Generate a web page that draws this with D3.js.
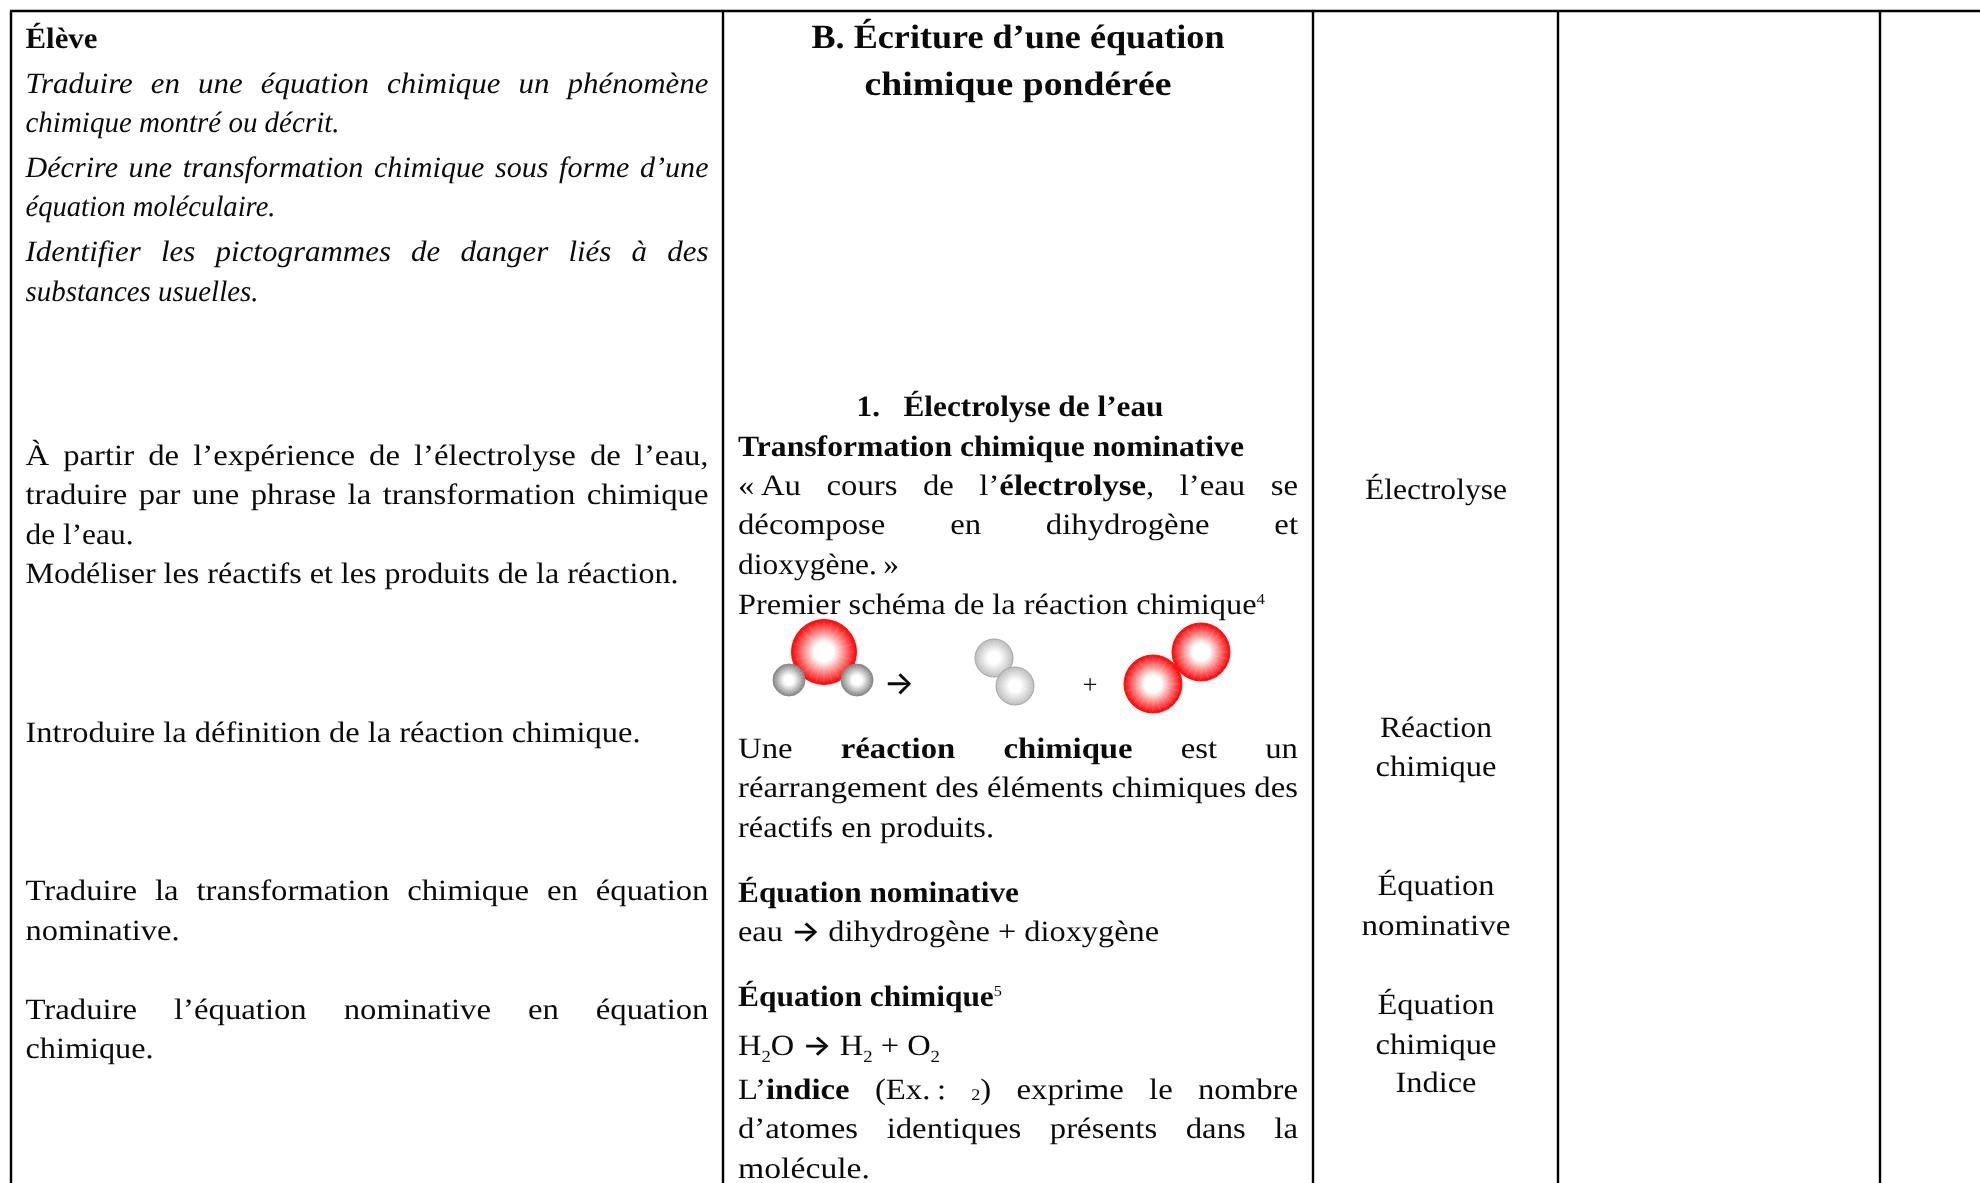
<!DOCTYPE html>
<html lang="fr">

<head>
    <meta charset="UTF-8">
    <title>Écriture d'une équation chimique pondérée</title>
    <script src="https://cdn.jsdelivr.net/npm/d3@7"></script>
</head>
<style>
    * {
        margin: 0;
        padding: 0;
    }

    body {
        background: #fff;
    }

    text {
        font-family: "Liberation Serif", serif;
        fill: #0a0a0a;
        text-rendering: geometricPrecision;
    }

    g.bloc {
        filter: blur(0.35px);
    }
</style>

<body>
    <svg></svg>
</body>

</html>

<script>
    // texte : *gras*, _indice_, ^exposant^, ~petit~ ; largeur 0 = ligne justifiee
    const eleveHead = ['*Élève*']
    const eleveHeadY = [48]
    const eleveHeadW = [72]

    const competences = [
        'Traduire en une équation chimique un phénomène',
        'chimique montré ou décrit.',
        'Décrire une transformation chimique sous forme d’une',
        'équation moléculaire.',
        'Identifier les pictogrammes de danger liés à des',
        'substances usuelles.'
    ]
    const competencesY = [93, 132, 177, 216, 261, 301]
    const competencesW = [0, 314, 0, 250, 0, 233]

    const leftLines = [
        'À partir de l’expérience de l’électrolyse de l’eau,',
        'traduire par une phrase la transformation chimique',
        'de l’eau.',
        'Modéliser les réactifs et les produits de la réaction.',
        'Introduire la définition de la réaction chimique.',
        'Traduire la transformation chimique en équation',
        'nominative.',
        'Traduire l’équation nominative en équation',
        'chimique.'
    ]
    const leftY = [465, 504, 544, 583, 742, 900, 940, 1019, 1058]
    const leftW = [0, 0, 108, 653, 615, 0, 154, 0, 128]

    const titleLines = ['*B. Écriture d’une équation*', '*chimique pondérée*']
    const titleY = [48, 95]
    const titleW = [413, 307]

    const headingLines = ['*1.\u00a0\u00a0\u00a0Électrolyse de l’eau*']
    const headingY = [416]
    const headingW = [307]

    const middleLines = [
        '*Transformation chimique nominative*',
        '«\u2009Au cours de l’*électrolyse*, l’eau se',
        'décompose en dihydrogène et',
        'dioxygène.\u2009»',
        'Premier schéma de la réaction chimique^4^',
        'Une *réaction chimique* est un',
        'réarrangement des éléments chimiques des',
        'réactifs en produits.',
        '*Équation nominative*',
        'eau → dihydrogène + dioxygène',
        '*Équation chimique*^5^',
        'H_2_O → H_2_ + O_2_',
        'L’*indice* (Ex.\u2009: ~2~) exprime le nombre',
        'd’atomes identiques présents dans la',
        'molécule.'
    ]
    const middleY = [456, 495, 534, 574, 614, 758, 797, 837, 902, 941, 1006, 1055, 1099, 1138, 1178]
    const middleW = [506, 0, 0, 161, 527, 0, 560, 256, 281, 421, 264, 202, 0, 0, 132]

    const termLines = ['Électrolyse', 'Réaction', 'chimique', 'Équation', 'nominative', 'Équation', 'chimique', 'Indice']
    const termY = [499, 737, 776, 895, 935, 1014, 1054, 1092]
    const termW = [142, 112, 121, 117, 149, 117, 121, 81]

    // bords du tableau
    const columnEdges = [11, 723, 1313, 1558, 1880]
    const tableTop = 11

    // schema : molecules
    const atomKinds = ['oxygene', 'eauH', 'eauH', 'hydrogene', 'hydrogene', 'oxygene2', 'oxygene2']
    const atomX = [824, 789, 857, 994, 1015, 1201, 1153]
    const atomY = [652, 680, 680, 658, 686, 652, 684]
    const schemaSigns = ['→', '+']
    const schemaSignX = [899, 1090]
    const schemaSignY = [694, 693]

    const kinds = ['oxygene', 'oxygene2', 'eauH', 'hydrogene']
    const radius = d3.scaleOrdinal().domain(kinds).range([32.5, 29, 16, 19])
    const edgeColor = d3.scaleOrdinal().domain(kinds).range(['#ff0000', '#ff0000', '#808080', '#bcbcbc'])
    const rimColor = d3.scaleOrdinal().domain(kinds).range(['#ff1010', '#ff1010', '#8a8a8a', '#a4a4a4'])

    const svg = d3.select('svg').attr('width', 1980).attr('height', 1183).style('display', 'block')

    // degrades
    const defs = svg.append('defs')
    const grads = defs.selectAll('radialGradient').data(kinds).join('radialGradient').attr('id', d => 'g-' + d)
    grads.append('stop').attr('offset', '0%').attr('stop-color', '#ffffff')
    grads.append('stop').attr('offset', '30%').attr('stop-color', '#ffffff')
    grads.append('stop').attr('offset', '100%').attr('stop-color', d => edgeColor(d))

    // lignes du tableau
    svg.selectAll('line.col').data(columnEdges).join('line')
        .attr('class', 'col')
        .attr('x1', d => d).attr('x2', d => d)
        .attr('y1', tableTop).attr('y2', 1183)
        .attr('stroke', '#000').attr('stroke-width', 2.4)

    svg.append('line')
        .attr('x1', columnEdges[0] - 1).attr('x2', 1980)
        .attr('y1', tableTop).attr('y2', tableTop)
        .attr('stroke', '#000').attr('stroke-width', 2.4)

    // decoupe une ligne en morceaux
    function parseRuns(str) {
        return str.split(/(\*[^*]+\*|_[^_]+_|\^[^^]+\^|~[^~]+~|→)/).filter(s => s !== '').map(s => {
            if (s[0] === '*' && s.length > 1) return { t: s.slice(1, -1), kind: 'bold' }
            if (s[0] === '_' && s.length > 1) return { t: s.slice(1, -1), kind: 'sub' }
            if (s[0] === '^' && s.length > 1) return { t: s.slice(1, -1), kind: 'sup' }
            if (s[0] === '~' && s.length > 1) return { t: s.slice(1, -1), kind: 'small' }
            if (s === '→') return { t: s, kind: 'arrow' }
            return { t: s, kind: 'normal' }
        })
    }

    function drawBlock(lines, ys, widths, opt) {
        const o = Object.assign({ size: 29.5, italic: false, x: 0, fullWidth: 0, center: false, stretch: 1.11 }, opt)
        const g = svg.append('g').attr('class', 'bloc')

        g.selectAll('text').data(lines).join('text')
            .attr('font-size', o.size)
            .attr('font-style', o.italic ? 'italic' : 'normal')
            .attr('text-anchor', o.center ? 'middle' : 'start')
            .attr('xml:space', 'preserve')
            .each(function (d, i) {
                const el = d3.select(this)
                let offset = 0
                parseRuns(d).forEach(r => {
                    const ts = el.append('tspan').text(r.t)
                    let target = 0
                    if (r.kind === 'bold') ts.attr('font-weight', 'bold')
                    if (r.kind === 'arrow') ts.style('font-family', 'Inter').attr('font-weight', 600).attr('font-size', o.size * 0.95)
                    if (r.kind === 'sub') { ts.attr('font-size', o.size * 0.58); target = 7 }
                    if (r.kind === 'sup') { ts.attr('font-size', o.size * 0.52); target = -10 }
                    if (r.kind === 'small') { ts.attr('font-size', o.size * 0.55); target = 1 }
                    if (target !== offset) ts.attr('dy', target - offset)
                    offset = target
                })

                // largeur mesuree puis ajustee
                const natural = this.getComputedTextLength()
                let sx = o.stretch
                if (widths[i] > 0) {
                    sx = widths[i] / natural
                } else {
                    const spaces = (d.match(/ /g) || []).length
                    // on garde au moins un blanc lisible entre les mots
                    sx = Math.min(sx, o.fullWidth / (natural + spaces * 3))
                    el.attr('word-spacing', (o.fullWidth / sx - natural) / spaces)
                }
                el.attr('transform', `translate(${o.x},${ys[i]}) scale(${sx},1)`)
            })
    }

    drawBlock(eleveHead, eleveHeadY, eleveHeadW, { x: 25.5 })
    drawBlock(competences, competencesY, competencesW, { x: 25.5, italic: true, fullWidth: 683, stretch: 1.05 })
    drawBlock(leftLines, leftY, leftW, { x: 25.5, fullWidth: 683 })
    drawBlock(titleLines, titleY, titleW, { x: 1018, size: 34, center: true })
    drawBlock(headingLines, headingY, headingW, { x: 1010, center: true })
    drawBlock(middleLines, middleY, middleW, { x: 738, fullWidth: 560 })
    drawBlock(termLines, termY, termW, { x: 1436, center: true })

    // schema de la reaction
    const atoms = svg.append('g').selectAll('g').data(atomKinds).join('g')
        .attr('transform', (d, i) => `translate(${atomX[i]},${atomY[i]})`)

    atoms.append('circle')
        .attr('r', d => radius(d))
        .attr('fill', d => `url(#g-${d})`)
        .attr('stroke', d => rimColor(d))
        .attr('stroke-width', 1)

    // rayons clairs dans les spheres
    atoms.selectAll('line').data(d => d3.range(24).map(k => ({ a: k * Math.PI / 12, r: radius(d) }))).join('line')
        .attr('x1', d => Math.cos(d.a) * d.r * 0.25).attr('y1', d => Math.sin(d.a) * d.r * 0.25)
        .attr('x2', d => Math.cos(d.a) * d.r * 0.95).attr('y2', d => Math.sin(d.a) * d.r * 0.95)
        .attr('stroke', '#fff').attr('stroke-opacity', 0.14).attr('stroke-width', 1)

    svg.append('g').attr('class', 'bloc').selectAll('text').data(schemaSigns).join('text')
        .attr('x', (d, i) => schemaSignX[i]).attr('y', (d, i) => schemaSignY[i])
        .attr('text-anchor', 'middle')
        .attr('font-size', (d, i) => i === 0 ? 32 : 26)
        .attr('font-weight', (d, i) => i === 0 ? 500 : 400)
        .style('font-family', (d, i) => i === 0 ? 'Inter' : null)
        .text(d => d)
</script>
